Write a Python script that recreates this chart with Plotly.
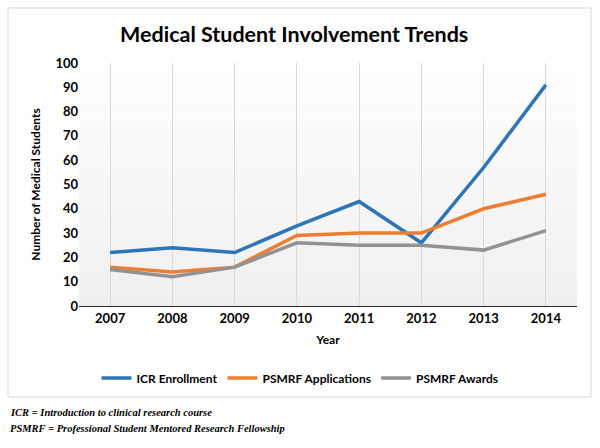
import plotly.graph_objects as go

years = ["2007", "2008", "2009", "2010", "2011", "2012", "2013", "2014"]
icr_enrollment = [22, 24, 22, 33, 43, 26, 57, 91]
psmrf_applications = [16, 14, 16, 29, 30, 30, 40, 46]
psmrf_awards = [15, 12, 16, 26, 25, 25, 23, 31]
y_ticks = [0, 10, 20, 30, 40, 50, 60, 70, 80, 90, 100]

W, H = 600, 448
def px(x): return x / W
def py(y): return 1 - y / H

FONT = "Lato"
fig = go.Figure()
series = [("ICR Enrollment", icr_enrollment, "#2e75b6"),
          ("PSMRF Applications", psmrf_applications, "#ed7d31"),
          ("PSMRF Awards", psmrf_awards, "#929292")]
for name, vals, col in series:
    fig.add_trace(go.Scatter(x=years, y=vals, name=name, mode="lines",
                             line=dict(color=col, width=3.5)))

shapes = []
# gradient plot background
n = 30
for i in range(n):
    y0 = 100 * i / n
    y1 = 100 * (i + 1) / n
    t = 1 - (i + 0.5) / n  # 1 at bottom
    g = int(round(255 - 16 * t))
    shapes.append(dict(type="rect", xref="x", yref="y", x0=-0.5, x1=7.5, y0=y0, y1=y1,
                       fillcolor=f"rgb({g},{g},{g})", line=dict(width=0), layer="below"))
# chart frame
shapes.append(dict(type="rect", xref="paper", yref="paper", x0=px(8), x1=px(591), y0=py(397), y1=py(8),
                   line=dict(color="#d9d9d9", width=1), fillcolor="rgba(0,0,0,0)", layer="below"))

fig.update_layout(
    width=W, height=H, margin=dict(l=0, r=0, t=0, b=0, pad=0, autoexpand=False),
    paper_bgcolor="white", plot_bgcolor="rgba(0,0,0,0)",
    shapes=shapes,
    font=dict(family=FONT, color="black"),
    xaxis=dict(domain=[px(79), px(577)], type="category", range=[-0.5, 7.5],
               showgrid=True, gridcolor="#d9d9d9", gridwidth=1,
               showline=True, linecolor="#262626", linewidth=1.2,
               ticks="", tickfont=dict(size=13, family=FONT, color="black", weight="bold"),
               title=dict(text="<b>Year</b>", font=dict(size=12), standoff=10),
               zeroline=False, automargin=False),
    yaxis=dict(domain=[py(306), py(63)], range=[0, 100], tickvals=y_ticks,
               showgrid=False, zeroline=False, showline=False, ticks="",
               tickfont=dict(size=13, family=FONT, color="black", weight="bold"),
               title=dict(text="<b>Number of Medical Students</b>", font=dict(size=12), standoff=12),
               automargin=False),
    legend=dict(orientation="h", x=0.5, xanchor="center", y=py(378), yanchor="middle",
                font=dict(size=12, family=FONT, weight="bold"), bgcolor="rgba(0,0,0,0)",
                itemwidth=30, tracegroupgap=0),
    showlegend=True,
    annotations=[
        dict(text="<b>Medical Student Involvement Trends</b>", xref="paper", yref="paper",
             x=px(294), y=py(34), xanchor="center", yanchor="middle", showarrow=False,
             font=dict(size=21.5, family=FONT)),
        dict(text="<b><i>ICR = Introduction to clinical research course</i></b>", xref="paper", yref="paper",
             x=px(8), y=py(412), xanchor="left", yanchor="middle", showarrow=False,
             font=dict(size=10.5, family="Liberation Serif")),
        dict(text="<b><i>PSMRF = Professional Student Mentored Research Fellowship</i></b>", xref="paper", yref="paper",
             x=px(8), y=py(428), xanchor="left", yanchor="middle", showarrow=False,
             font=dict(size=10.5, family="Liberation Serif")),
    ],
)
fig.write_html("out.html", post_script="document.body.style.margin='0';",
               config={"displayModeBar": False})
